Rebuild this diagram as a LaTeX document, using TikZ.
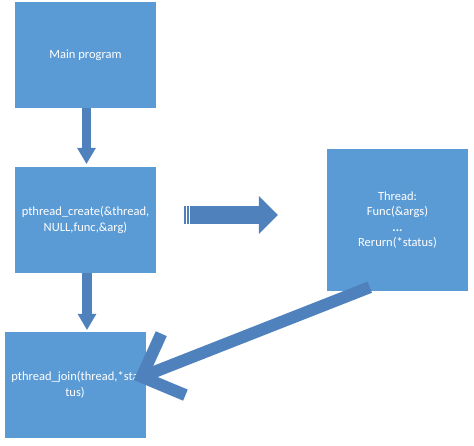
\documentclass[tikz,border=0pt]{standalone}
\usepackage{fontspec}
\setmainfont{Carlito}
\usetikzlibrary{arrows.meta}
\definecolor{boxblue}{HTML}{5B9BD5}
\definecolor{arrowblue}{HTML}{4F81BD}
\begin{document}
\begin{tikzpicture}[x=1pt, y=-1pt,
  box/.style={fill=boxblue, text=white, align=center, inner sep=0pt,
    minimum width=141pt, minimum height=106pt,
    font=\fontsize{12.5}{15.5}\selectfont},
  downarrow/.style={draw=arrowblue, line width=9.5pt,
    -{Triangle[length=16pt, width=19pt, line width=0pt]}},
  rightarrow/.style={draw=arrowblue, line width=18pt,
    -{Triangle[length=19pt, width=38pt, line width=0pt]}},
  backarrow/.style={draw=arrowblue, line width=12pt,
    -{Straight Barb[length=34pt, width=66pt, sharp]}}]
  \useasboundingbox (0, 0) rectangle (474, 446);

  \node[box] (main) at (85.5, 55) {Main program};
  \node[box] (create) at (85.5, 220) {pthread\_create(\&thread,\\NULL,func,\&arg)};
  \node[box] (join) at (75, 385) {pthread\_join(thread,*sta\\tus)};
  \node[box, minimum height=142pt] (thread) at (397.5, 220)
    {Thread:\\Func(\&args)\\\textbf{...}\\Rerurn(*status)};

  \draw[downarrow] ([xshift=1pt]main.south) -- ([xshift=1pt, yshift=3pt]create.north);
  \draw[downarrow] ([xshift=1.5pt]create.south) -- ([xshift=1.5pt, yshift=2pt]join.north -| create.south);

  % striped arrow between the two columns
  \coordinate (stripe) at ([xshift=28pt, yshift=5pt]create.east);
  \coordinate (stripetip) at ([xshift=-49pt]stripe -| thread.west);
  \fill[arrowblue] (stripe) ++(0, -9) rectangle ++(2, 18);
  \fill[arrowblue] (stripe) ++(3, -9) rectangle ++(2, 18);
  \draw[rightarrow] ([xshift=6pt]stripe) -- (stripetip);

  \coordinate (back) at ([xshift=43pt, yshift=4pt]thread.south west);
  \draw[backarrow] (back) -- ([xshift=-12pt, yshift=5pt]join.east);
\end{tikzpicture}
\end{document}
